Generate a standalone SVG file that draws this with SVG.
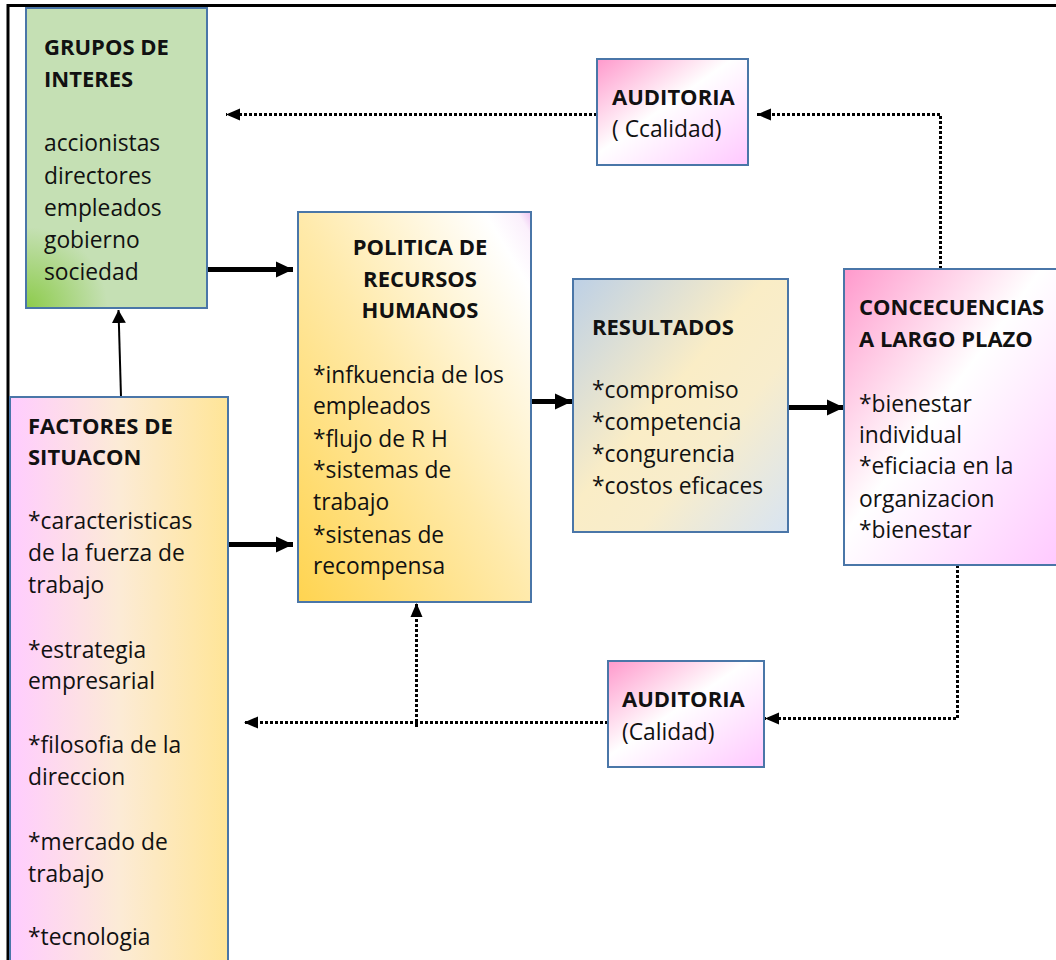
<svg xmlns="http://www.w3.org/2000/svg" width="1056" height="960" viewBox="0 0 1056 960">
  <defs>
    <style>
      text { font-family: "Open Sans", "Noto Sans", "Liberation Sans", sans-serif; font-size: 22.8px; fill: #111; }
      .title { font-weight: bold; font-size: 22px; }
      .box { stroke: #4A76A8; stroke-width: 2; }
      .solid { stroke: #000; fill: none; }
      .dotted { stroke: #000; stroke-width: 3; stroke-dasharray: 3 2; fill: none; }
    </style>
    <radialGradient id="gGreen" cx="0" cy="1" r="0.45" gradientTransform="scale(1,0.6) translate(0,0.667)">
      <stop offset="0" stop-color="#8CCB4A"/>
      <stop offset="1" stop-color="#C5E0B4"/>
    </radialGradient>
    <linearGradient id="gYellow" x1="0" y1="1" x2="1" y2="0">
      <stop offset="0" stop-color="#FFD450"/>
      <stop offset="0.5" stop-color="#FFEAAB"/>
      <stop offset="0.9" stop-color="#FFFFFF"/>
      <stop offset="0.97" stop-color="#FBF0FC"/>
      <stop offset="1" stop-color="#EEC2F2"/>
    </linearGradient>
    <linearGradient id="gResult" x1="0" y1="0" x2="1" y2="1">
      <stop offset="0" stop-color="#BDD0E6"/>
      <stop offset="0.45" stop-color="#FAEDC6"/>
      <stop offset="0.65" stop-color="#F8EDCC"/>
      <stop offset="1" stop-color="#D8E4F2"/>
    </linearGradient>
    <linearGradient id="gPink" x1="0" y1="0" x2="1" y2="1">
      <stop offset="0" stop-color="#FF99CC"/>
      <stop offset="0.45" stop-color="#FFFFFF"/>
      <stop offset="1" stop-color="#FFC8FF"/>
    </linearGradient>
    <linearGradient id="gFactor" x1="0" y1="0" x2="1" y2="0">
      <stop offset="0" stop-color="#FFCCFF"/>
      <stop offset="0.5" stop-color="#FCEBD6"/>
      <stop offset="1" stop-color="#FFE597"/>
    </linearGradient>
    <marker id="headBig" markerUnits="userSpaceOnUse" markerWidth="18" markerHeight="18" refX="17" refY="9" orient="auto">
      <path d="M0,1 L17,9 L0,17 Z" fill="#000"/>
    </marker>
    <marker id="headThin" markerUnits="userSpaceOnUse" markerWidth="14" markerHeight="16" refX="13" refY="8" orient="auto">
      <path d="M0,1 L13,8 L0,15 Z" fill="#000"/>
    </marker>
    <marker id="headDot" markerUnits="userSpaceOnUse" markerWidth="16" markerHeight="14" refX="14" refY="7" orient="auto">
      <path d="M0,1 L14,7 L0,13 Z" fill="#000"/>
    </marker>
  </defs>

  <!-- outer frame -->
  <rect x="8" y="5.5" width="1060" height="970" fill="#FFFFFF" stroke="#000" stroke-width="3"/>

  <!-- connectors -->
  <g id="connectors">
    <line class="solid" x1="207" y1="269.5" x2="293" y2="269.5" stroke-width="5" marker-end="url(#headBig)"/>
    <line class="solid" x1="228" y1="544.5" x2="293" y2="544.5" stroke-width="5" marker-end="url(#headBig)"/>
    <line class="solid" x1="526" y1="401.5" x2="572" y2="401.5" stroke-width="5" marker-end="url(#headBig)"/>
    <line class="solid" x1="788" y1="407.5" x2="844" y2="407.5" stroke-width="5" marker-end="url(#headBig)"/>
    <line class="solid" x1="121" y1="397" x2="118.5" y2="310" stroke-width="2" marker-end="url(#headThin)"/>
    <path class="dotted" d="M940.5,269 V114.5 H757" marker-end="url(#headDot)"/>
    <line class="dotted" x1="597" y1="114.5" x2="226" y2="114.5" marker-end="url(#headDot)"/>
    <path class="dotted" d="M957.5,565 V718.5 H765" marker-end="url(#headDot)"/>
    <line class="dotted" x1="608" y1="722.5" x2="244" y2="722.5" marker-end="url(#headDot)"/>
    <line class="dotted" x1="416.5" y1="727" x2="416.5" y2="603" marker-end="url(#headDot)"/>
  </g>

  <g id="grupos">
    <rect class="box" x="26" y="8" width="181" height="300" fill="url(#gGreen)"/>
    <text class="title" x="44" y="55">GRUPOS DE</text>
    <text class="title" x="44" y="87">INTERES</text>
    <text x="44" y="151">accionistas</text>
    <text x="44" y="184">directores</text>
    <text x="44" y="216">empleados</text>
    <text x="44" y="248">gobierno</text>
    <text x="44" y="280">sociedad</text>
  </g>

  <g id="politica">
    <rect class="box" x="298" y="212" width="233" height="390" fill="url(#gYellow)"/>
    <text class="title" x="420" y="255" text-anchor="middle">POLITICA DE</text>
    <text class="title" x="420" y="287" text-anchor="middle">RECURSOS</text>
    <text class="title" x="420" y="318" text-anchor="middle">HUMANOS</text>
    <text x="313" y="383">*infkuencia de los</text>
    <text x="313" y="414">empleados</text>
    <text x="313" y="447">*flujo de R H</text>
    <text x="313" y="478">*sistemas de</text>
    <text x="313" y="510">trabajo</text>
    <text x="313" y="543">*sistenas de</text>
    <text x="313" y="574">recompensa</text>
  </g>

  <g id="resultados">
    <rect class="box" x="573" y="279" width="215" height="253" fill="url(#gResult)"/>
    <text class="title" x="592" y="335">RESULTADOS</text>
    <text x="592" y="398">*compromiso</text>
    <text x="592" y="430">*competencia</text>
    <text x="592" y="462">*congurencia</text>
    <text x="592" y="494">*costos eficaces</text>
  </g>

  <g id="concecuencias">
    <rect class="box" x="844" y="269" width="220" height="296" fill="url(#gPink)"/>
    <text class="title" x="859" y="315">CONCECUENCIAS</text>
    <text class="title" x="859" y="347">A LARGO PLAZO</text>
    <text x="859" y="412">*bienestar</text>
    <text x="859" y="443">individual</text>
    <text x="859" y="474">*eficiacia en la</text>
    <text x="859" y="507">organizacion</text>
    <text x="859" y="538">*bienestar</text>
  </g>

  <g id="auditoria-top">
    <rect class="box" x="597" y="59" width="151" height="106" fill="url(#gPink)"/>
    <text class="title" x="612" y="105">AUDITORIA</text>
    <text x="612" y="137">( Ccalidad)</text>
  </g>

  <g id="auditoria-bottom">
    <rect class="box" x="608" y="661" width="156" height="106" fill="url(#gPink)"/>
    <text class="title" x="622" y="707">AUDITORIA</text>
    <text x="622" y="740">(Calidad)</text>
  </g>

  <g id="factores">
    <rect class="box" x="10" y="397" width="218" height="580" fill="url(#gFactor)"/>
    <text class="title" x="28" y="434">FACTORES DE</text>
    <text class="title" x="28" y="465">SITUACON</text>
    <text x="28" y="529">*caracteristicas</text>
    <text x="28" y="561">de la fuerza de</text>
    <text x="28" y="593">trabajo</text>
    <text x="28" y="658">*estrategia</text>
    <text x="28" y="689">empresarial</text>
    <text x="28" y="753">*filosofia de la</text>
    <text x="28" y="785">direccion</text>
    <text x="28" y="850">*mercado de</text>
    <text x="28" y="882">trabajo</text>
    <text x="28" y="945">*tecnologia</text>
  </g>
</svg>
